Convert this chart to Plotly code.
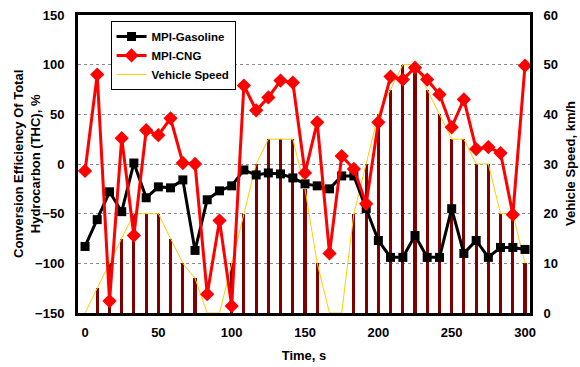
import plotly.graph_objects as go

# Sampling instants of the driving cycle, s
time_s = [0, 8.3, 16.7, 25, 33.3, 41.7, 50, 58.3, 66.7, 75, 83.3, 91.7,
          100, 108.3, 116.7, 125, 133.3, 141.7, 150, 158.3, 166.7, 175,
          183.3, 191.7, 200, 208.3, 216.7, 225, 233.3, 241.7, 250, 258.3,
          266.7, 275, 283.3, 291.7, 300]

# THC conversion efficiency, %
thc_gasoline = [-83, -56, -28, -48, 1, -34, -23, -24, -16, -87, -36, -27,
                -22, -6, -11, -9, -10, -14, -20, -22, -25, -12, -12, -45,
                -77, -94, -94, -72, -94, -94, -45, -90, -77, -94, -84, -84,
                -86]
thc_cng = [-7, 90, -138, 26, -72, 34, 29, 46, 1, 0, -131, -57,
           -143, 79, 54, 67, 84, 82, -9, 42, -90, 8, -5, -40,
           42, 88, 85, 97, 85, 70, 37, 65, 15, 17, 11, -51,
           99]

# Vehicle speed, km/h
speed_kmh = [0, 5, 10, 15, 20, 20, 20, 15, 10, 7, 0, 0,
             10, 20, 30, 35, 35, 35, 25, 10, 0, 0, 20, 30,
             40, 45, 50, 50, 45, 40, 35, 35, 30, 30, 20, 20,
             10]

x_ticks = [0, 50, 100, 150, 200, 250, 300]
# small ticks on the zero line sit between neighbouring samples
mid_ticks = [(a + b) / 2 for a, b in zip(time_s[:-1], time_s[1:])]

FONT = "Liberation Sans, Arial, sans-serif"
bold13 = dict(family=FONT, size=13, color="black", weight="bold")

fig = go.Figure()

# speed as bars plus a thin line through the bar tops (right axis)
fig.add_trace(go.Bar(
    x=time_s, y=speed_kmh, width=2.1, marker=dict(color="#800000", line=dict(width=0)),
    showlegend=False, xaxis="x", yaxis="y", hoverinfo="skip"))
fig.add_trace(go.Scatter(
    x=time_s, y=speed_kmh, mode="lines", name="Vehicle Speed",
    line=dict(color="#FFCC00", width=1), legendrank=3,
    xaxis="x", yaxis="y"))

# conversion efficiency (left axis)
fig.add_trace(go.Scatter(
    x=time_s, y=thc_gasoline, mode="lines+markers", name="MPI-Gasoline",
    line=dict(color="black", width=3),
    marker=dict(symbol="square", size=9, color="black"), legendrank=1,
    xaxis="x", yaxis="y2"))
fig.add_trace(go.Scatter(
    x=time_s, y=thc_cng, mode="lines+markers", name="MPI-CNG",
    line=dict(color="#FF0000", width=3),
    marker=dict(symbol="diamond", size=11, color="#FF0000"), legendrank=2,
    xaxis="x", yaxis="y2"))

fig.update_layout(
    width=580, height=367,
    margin=dict(l=78, r=50, t=15, b=54, autoexpand=False),
    paper_bgcolor="white", plot_bgcolor="white",
    font=dict(family=FONT, color="black"),
    bargap=0,
    xaxis=dict(
        automargin=False,
        range=[-4.8, 303.4], tickvals=x_ticks, ticks="", tickfont=bold13,
        ticklabelstandoff=5,
        showline=True, linewidth=3, linecolor="black", mirror=True,
        showgrid=False, zeroline=False,
        title=dict(text="Time, s", font=bold13, standoff=13)),
    xaxis2=dict(
        automargin=False,
        overlaying="x", anchor="free", position=0.5,
        range=[-4.8, 303.4], tickvals=mid_ticks, ticks="inside",
        ticklen=3, tickwidth=1, tickcolor="black", showticklabels=False,
        showline=True, linewidth=1.5, linecolor="black",
        showgrid=False, zeroline=False),
    yaxis=dict(
        automargin=False,
        side="right", range=[0, 60], dtick=10, ticks="", tickfont=bold13,
        ticklabelstandoff=8,
        showline=True, linewidth=3, linecolor="black",
        showgrid=False, zeroline=False),
    yaxis2=dict(
        automargin=False,
        overlaying="y", side="left", anchor="x", range=[-150, 150], dtick=50,
        ticks="", tickfont=bold13, ticklabelstandoff=8,
        showline=True, linewidth=3, linecolor="black",
        showgrid=True, gridcolor="#8c8c8c", gridwidth=1, griddash="dot",
        zeroline=False),
    legend=dict(
        x=0.072, y=0.98, xanchor="left", yanchor="top",
        bgcolor="white", bordercolor="black", borderwidth=1,
        font=dict(family=FONT, size=11.5, color="black", weight="bold"),
        tracegroupgap=0, itemwidth=30),
    annotations=[
        # left axis title (two lines, rotated)
        dict(text="Conversion Efficiency Of Total<br>Hydrocarbon (THC), %",
             xref="paper", yref="paper", x=0, y=0.5, xshift=-51,
             xanchor="center", yanchor="middle", textangle=-90,
             showarrow=False, font=bold13),
        # right axis title
        dict(text="Vehicle Speed, km/h",
             xref="paper", yref="paper", x=1, y=0.5, xshift=40,
             xanchor="center", yanchor="middle", textangle=-90,
             showarrow=False, font=bold13),
    ],
)

fig.write_html("out.html")
